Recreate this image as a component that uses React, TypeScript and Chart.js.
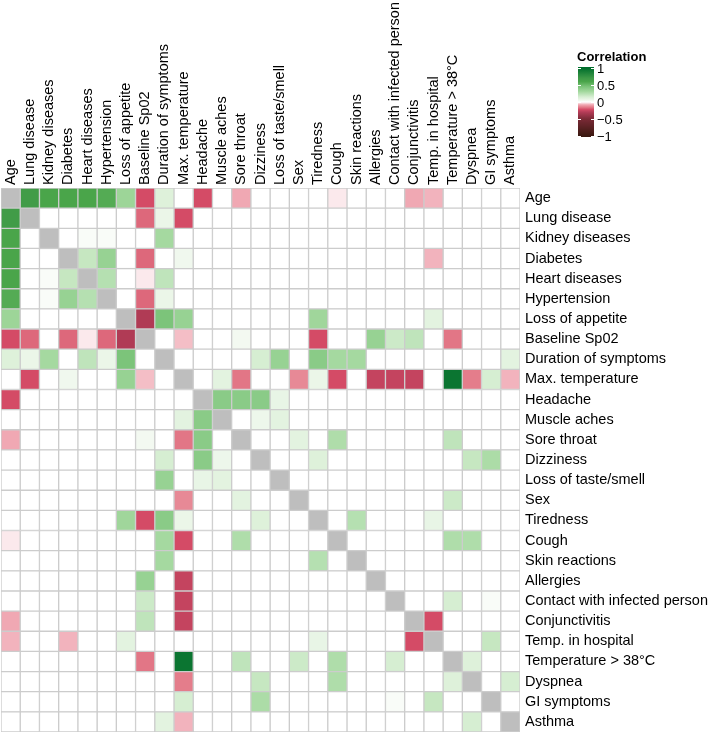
import React, { useEffect, useRef } from "react";
import { Chart, registerables } from "chart.js";

Chart.register(...registerables);

const variables = [
  "Age",
  "Lung disease",
  "Kidney diseases",
  "Diabetes",
  "Heart diseases",
  "Hypertension",
  "Loss of appetite",
  "Baseline Sp02",
  "Duration of symptoms",
  "Max. temperature",
  "Headache",
  "Muscle aches",
  "Sore throat",
  "Dizziness",
  "Loss of taste/smell",
  "Sex",
  "Tiredness",
  "Cough",
  "Skin reactions",
  "Allergies",
  "Contact with infected person",
  "Conjunctivitis",
  "Temp. in hospital",
  "Temperature > 38°C",
  "Dyspnea",
  "GI symptoms",
  "Asthma",
];

// Lower-triangle correlations: row i holds values for columns 0..i-1
const rowAge: number[] = [];
const rowLung = [0.68];
const rowKidney = [0.6, 0];
const rowDiabetes = [0.6, 0, 0];
const rowHeart = [0.6, 0, 0.02, 0.2];
const rowHypertension = [0.57, 0, 0.02, 0.35, 0.25];
const rowLossAppetite = [0.33, 0, 0, 0, 0, 0];
const rowBaseline = [-0.22, -0.18, 0, -0.18, -0.02, -0.18, -0.31];
const rowDuration = [0.12, 0.07, 0.3, 0, 0.22, 0.07, 0.45, 0];
const rowMaxTemp = [0, -0.22, 0, 0.05, 0, 0, 0.35, -0.06, 0];
const rowHeadache = [-0.22, 0, 0, 0, 0, 0, 0, 0, 0, 0];
const rowMuscle = [0, 0, 0, 0, 0, 0, 0, 0, 0, 0.1, 0.4];
const rowSore = [-0.08, 0, 0, 0, 0, 0, 0, 0.04, 0, -0.16, 0.4, 0];
const rowDizziness = [0, 0, 0, 0, 0, 0, 0, 0, 0.15, 0, 0.4, 0.06, 0];
const rowLossTaste = [0, 0, 0, 0, 0, 0, 0, 0, 0.35, 0, 0.08, 0.1, 0, 0];
const rowSex = [0, 0, 0, 0, 0, 0, 0, 0, 0, -0.13, 0, 0, 0.1, 0, 0];
const rowTiredness = [0, 0, 0, 0, 0, 0, 0.32, -0.22, 0.4, 0.07, 0, 0, 0, 0.12, 0, 0];
const rowCough = [-0.02, 0, 0, 0, 0, 0, 0, 0, 0.3, -0.22, 0, 0, 0.27, 0, 0, 0, 0];
const rowSkin = [0, 0, 0, 0, 0, 0, 0, 0, 0.3, 0, 0, 0, 0, 0, 0, 0, 0.25, 0];
const rowAllergies = [0, 0, 0, 0, 0, 0, 0, 0.35, 0, -0.26, 0, 0, 0, 0, 0, 0, 0, 0, 0];
const rowContact = [0, 0, 0, 0, 0, 0, 0, 0.18, 0, -0.26, 0, 0, 0, 0, 0, 0, 0, 0, 0, 0];
const rowConjunctivitis = [-0.08, 0, 0, 0, 0, 0, 0, 0.22, 0, -0.26, 0, 0, 0, 0, 0, 0, 0, 0, 0, 0, 0];
const rowTempHospital = [-0.07, 0, 0, -0.07, 0, 0, 0.1, 0, 0, 0, 0, 0, 0, 0, 0, 0, 0.08, 0, 0, 0, 0, -0.22];
const rowTemp38 = [0, 0, 0, 0, 0, 0, 0, -0.16, 0, 0.95, 0, 0, 0.22, 0, 0, 0.18, 0, 0.27, 0, 0, 0.15, 0, 0];
const rowDyspnea = [0, 0, 0, 0, 0, 0, 0, 0, 0, -0.15, 0, 0, 0, 0.2, 0, 0, 0, 0.27, 0, 0, 0, 0, 0, 0.12];
const rowGI = [0, 0, 0, 0, 0, 0, 0, 0, 0, 0.15, 0, 0, 0, 0.28, 0, 0, 0, 0, 0, 0, 0.02, 0, 0.2, 0, 0];
const rowAsthma = [0, 0, 0, 0, 0, 0, 0, 0, 0.1, -0.07, 0, 0, 0, 0, 0, 0, 0, 0, 0, 0, 0, 0, 0, 0, 0.15, 0];

const lowerRows = [
  rowAge, rowLung, rowKidney, rowDiabetes, rowHeart, rowHypertension, rowLossAppetite,
  rowBaseline, rowDuration, rowMaxTemp, rowHeadache, rowMuscle, rowSore, rowDizziness,
  rowLossTaste, rowSex, rowTiredness, rowCough, rowSkin, rowAllergies, rowContact,
  rowConjunctivitis, rowTempHospital, rowTemp38, rowDyspnea, rowGI, rowAsthma,
];

const legendTicks = [1, 0.5, 0, -0.5, -1];
const legendTickLabels = ["1", "0.5", "0", "\u22120.5", "\u22121"];

const colorStops: [number, string][] = [
  [-1, "#3a1810"],
  [-0.5, "#7a2a36"],
  [-0.3, "#b33c57"],
  [-0.22, "#d44b66"],
  [-0.15, "#e47d8b"],
  [-0.08, "#f0a8b3"],
  [0, "#ffffff"],
  [0.05, "#f0f8ee"],
  [0.15, "#d6eed2"],
  [0.3, "#a5d9a0"],
  [0.45, "#7cc47a"],
  [0.6, "#4aa54a"],
  [0.7, "#3f9a48"],
  [1, "#006d2c"],
];

const DIAG = "#bebebe";
const FONT = "'Liberation Sans', Arial, Helvetica, sans-serif";
const AXIS_FONT_SIZE = 14.5;
const LINE_HEIGHT = 1.2;

function hexToRgb(h: string): [number, number, number] {
  const n = parseInt(h.slice(1), 16);
  return [(n >> 16) & 255, (n >> 8) & 255, n & 255];
}

function colorFor(v: number): string {
  if (v <= colorStops[0][0]) return colorStops[0][1];
  for (let i = 1; i < colorStops.length; i++) {
    const [v1, c1] = colorStops[i];
    if (v <= v1) {
      const [v0, c0] = colorStops[i - 1];
      const t = (v - v0) / (v1 - v0);
      const a = hexToRgb(c0);
      const b = hexToRgb(c1);
      const r = Math.round(a[0] + (b[0] - a[0]) * t);
      const g = Math.round(a[1] + (b[1] - a[1]) * t);
      const bl = Math.round(a[2] + (b[2] - a[2]) * t);
      return `rgb(${r},${g},${bl})`;
    }
  }
  return colorStops[colorStops.length - 1][1];
}

function buildMatrix(): (number | null)[][] {
  const n = variables.length;
  const m: (number | null)[][] = Array.from({ length: n }, () => Array(n).fill(0));
  for (let i = 0; i < n; i++) {
    m[i][i] = null;
    for (let j = 0; j < i; j++) {
      const v = lowerRows[i][j] ?? 0;
      m[i][j] = v;
      m[j][i] = v;
    }
  }
  return m;
}

const legendPlugin = {
  id: "corrLegend",
  afterDraw(chart: any) {
    const ctx: CanvasRenderingContext2D = chart.ctx;
    ctx.save();
    const barX = 578;
    const barW = 16;
    const top = 67;
    const bottom = 137;
    const inTop = 68;
    const inBottom = 136;
    const yFor = (v: number) => inTop + ((1 - v) / 2) * (inBottom - inTop);
    const grad = ctx.createLinearGradient(0, inTop, 0, inBottom);
    for (let k = 0; k <= 200; k++) {
      const v = 1 - k / 100;
      grad.addColorStop(k / 200, colorFor(v));
    }
    ctx.fillStyle = grad;
    ctx.fillRect(barX, top, barW, bottom - top);
    ctx.strokeStyle = "#ffffff";
    ctx.lineWidth = 1;
    legendTicks.forEach((v) => {
      const y = Math.round(yFor(v)) + 0.5;
      ctx.beginPath();
      ctx.moveTo(barX, y);
      ctx.lineTo(barX + 3, y);
      ctx.moveTo(barX + barW - 3, y);
      ctx.lineTo(barX + barW, y);
      ctx.stroke();
    });
    ctx.fillStyle = "#000000";
    ctx.textAlign = "left";
    ctx.textBaseline = "middle";
    ctx.font = `13px ${FONT}`;
    legendTicks.forEach((v, i) => {
      ctx.fillText(legendTickLabels[i], 597, yFor(v) + 1);
    });
    ctx.font = `bold 13px ${FONT}`;
    ctx.fillText("Correlation", 577, 57);
    ctx.restore();
  },
};

export default function App() {
  const canvasRef = useRef<HTMLCanvasElement | null>(null);

  useEffect(() => {
    if (!canvasRef.current) return;
    const m = buildMatrix();
    const datasets = variables.map((colName, c) => ({
      label: colName,
      data: variables.map(() => 1),
      backgroundColor: variables.map((_, r) => {
        const v = m[r][c];
        return v === null ? DIAG : colorFor(v);
      }),
      borderColor: "#cccccc",
      borderWidth: 1,
      borderSkipped: false as const,
      categoryPercentage: 1,
      barPercentage: 1,
    }));

    const chart = new Chart(canvasRef.current, {
      type: "bar",
      data: { labels: variables, datasets },
      options: {
        indexAxis: "y",
        animation: false,
        responsive: false,
        events: [],
        layout: { padding: { left: 1, top: 0, right: 0, bottom: 2 } },
        plugins: {
          legend: { display: false },
          tooltip: { enabled: false },
        },
        scales: {
          x: {
            type: "linear",
            position: "top",
            stacked: true,
            min: 0,
            max: variables.length,
            grid: { display: false, drawTicks: false },
            border: { display: false },
            afterBuildTicks: (scale: any) => {
              scale.ticks = variables.map((_, i) => ({ value: i + 0.5 }));
            },
            afterFit: (scale: any) => {
              scale.height = 188;
              scale.paddingLeft = 0;
              scale.paddingRight = 0;
            },
            ticks: {
              autoSkip: false,
              minRotation: 90,
              maxRotation: 90,
              padding: 3,
              labelOffset: AXIS_FONT_SIZE * LINE_HEIGHT,
              color: "#000000",
              font: { family: FONT, size: AXIS_FONT_SIZE, lineHeight: LINE_HEIGHT },
              callback: (_v: any, i: number) => variables[i],
            },
          },
          y: {
            type: "category",
            position: "right",
            stacked: true,
            grid: { display: false, drawTicks: false },
            border: { display: false },
            afterFit: (scale: any) => {
              scale.width = 188;
              scale.paddingTop = 0;
              scale.paddingBottom = 0;
            },
            ticks: {
              autoSkip: false,
              padding: 5,
              color: "#000000",
              font: { family: FONT, size: AXIS_FONT_SIZE, lineHeight: LINE_HEIGHT },
            },
          },
        },
      } as any,
      plugins: [legendPlugin],
    });
    return () => chart.destroy();
  }, []);

  return (
    <div style={{ position: "absolute", left: 0, top: 0, width: 708, height: 734, background: "#ffffff" }}>
      <canvas ref={canvasRef} width={708} height={734} style={{ width: 708, height: 734, display: "block" }} />
    </div>
  );
}
